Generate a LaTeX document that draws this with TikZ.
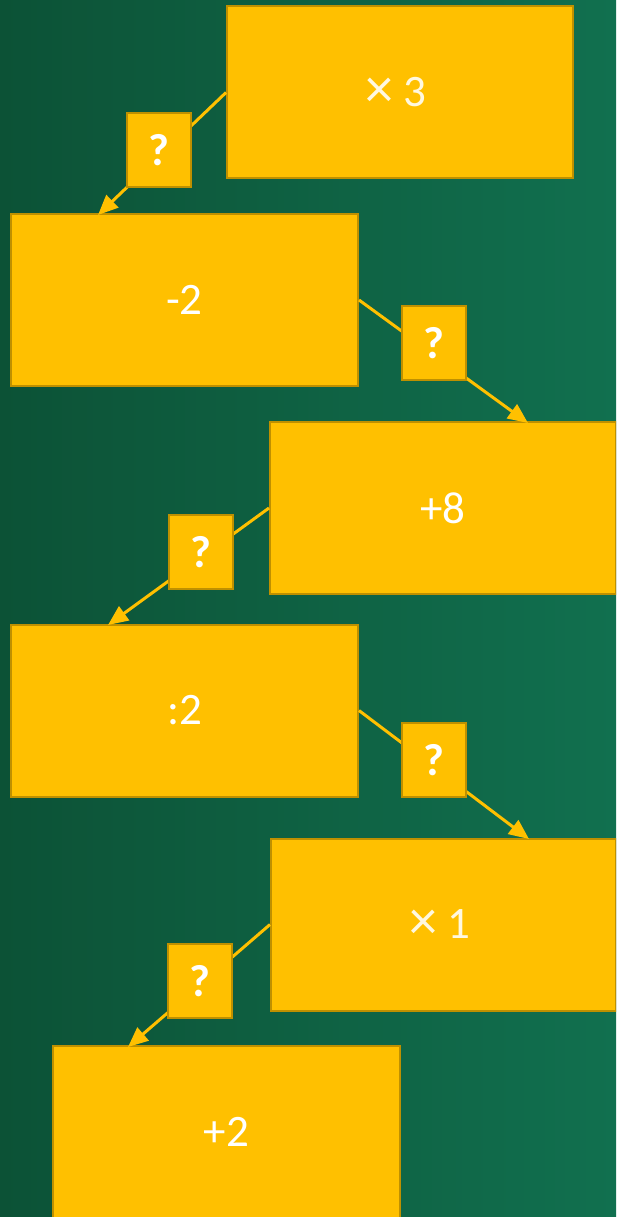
\documentclass[tikz,border=0pt]{standalone}
\usepackage{fontspec}
\setmainfont{Carlito}
\usetikzlibrary{arrows.meta}
\definecolor{bgL}{HTML}{0C5236}
\definecolor{bgR}{HTML}{11704F}
\definecolor{boxfill}{HTML}{FFC000}
\definecolor{boxline}{HTML}{BF9000}
\definecolor{cream}{HTML}{FFF8E0}
\newcommand{\bigtimes}{\raisebox{-1.5pt}{\scalebox{1.25}{×}}}
\tikzset{
  opbox/.style={draw=boxline, fill=boxfill, line width=2pt, minimum width=#1, minimum height=172pt, inner sep=0pt, text=white, font=\fontsize{45}{50}\selectfont},
  qbox/.style={draw=boxline, fill=boxfill, line width=2pt, minimum width=64pt, minimum height=74pt, inner sep=0pt, text=white, font=\bfseries\fontsize{45}{50}\selectfont},
  conn/.style={draw=boxfill, line width=3pt, -{Triangle[length=20pt,width=17pt]}}
}
\begin{document}
\begin{tikzpicture}[x=1pt,y=-1pt]
\useasboundingbox (0,0) rectangle (616,1217);
\clip (0,0) rectangle (616,1217);
\shade[left color=bgL, right color=bgR] (0,0) rectangle (616,1217);
% operation boxes
\node[opbox=346pt, text=cream] (A) at (400,92.5) {\bigtimes\ 3\hspace*{8pt}};
\node[opbox=347pt] (B) at (184.5,300) {-2};
\node[opbox=346pt] (C) at (443,508) {+8};
\node[opbox=347pt] (D) at (184.5,710.5) {:2};
\node[opbox=345pt, text=cream] (E) at (443.5,924.5) {\bigtimes\ 1\hspace*{8pt}};
\node[opbox=347pt] (F) at (226.5,1132) {+2};
% arrow targets
\coordinate (tB) at (98,215);
\coordinate (tC) at (528,423);
\coordinate (tD) at (108,625);
\coordinate (tE) at (529,839);
\coordinate (tF) at (128,1047);
% connectors
\draw[conn] (A.west) -- (tB);
\draw[conn] (B.east) -- (tC);
\draw[conn] (C.west) -- (tD);
\draw[conn] (D.east) -- (tE);
\draw[conn] (E.west) -- (tF);
% question boxes
\node[qbox] (q1) at (159,150) {?};
\node[qbox] (q2) at (434,343) {?};
\node[qbox] (q3) at (201,552) {?};
\node[qbox] (q4) at (434,760) {?};
\node[qbox] (q5) at (200,981) {?};
\end{tikzpicture}
\end{document}
